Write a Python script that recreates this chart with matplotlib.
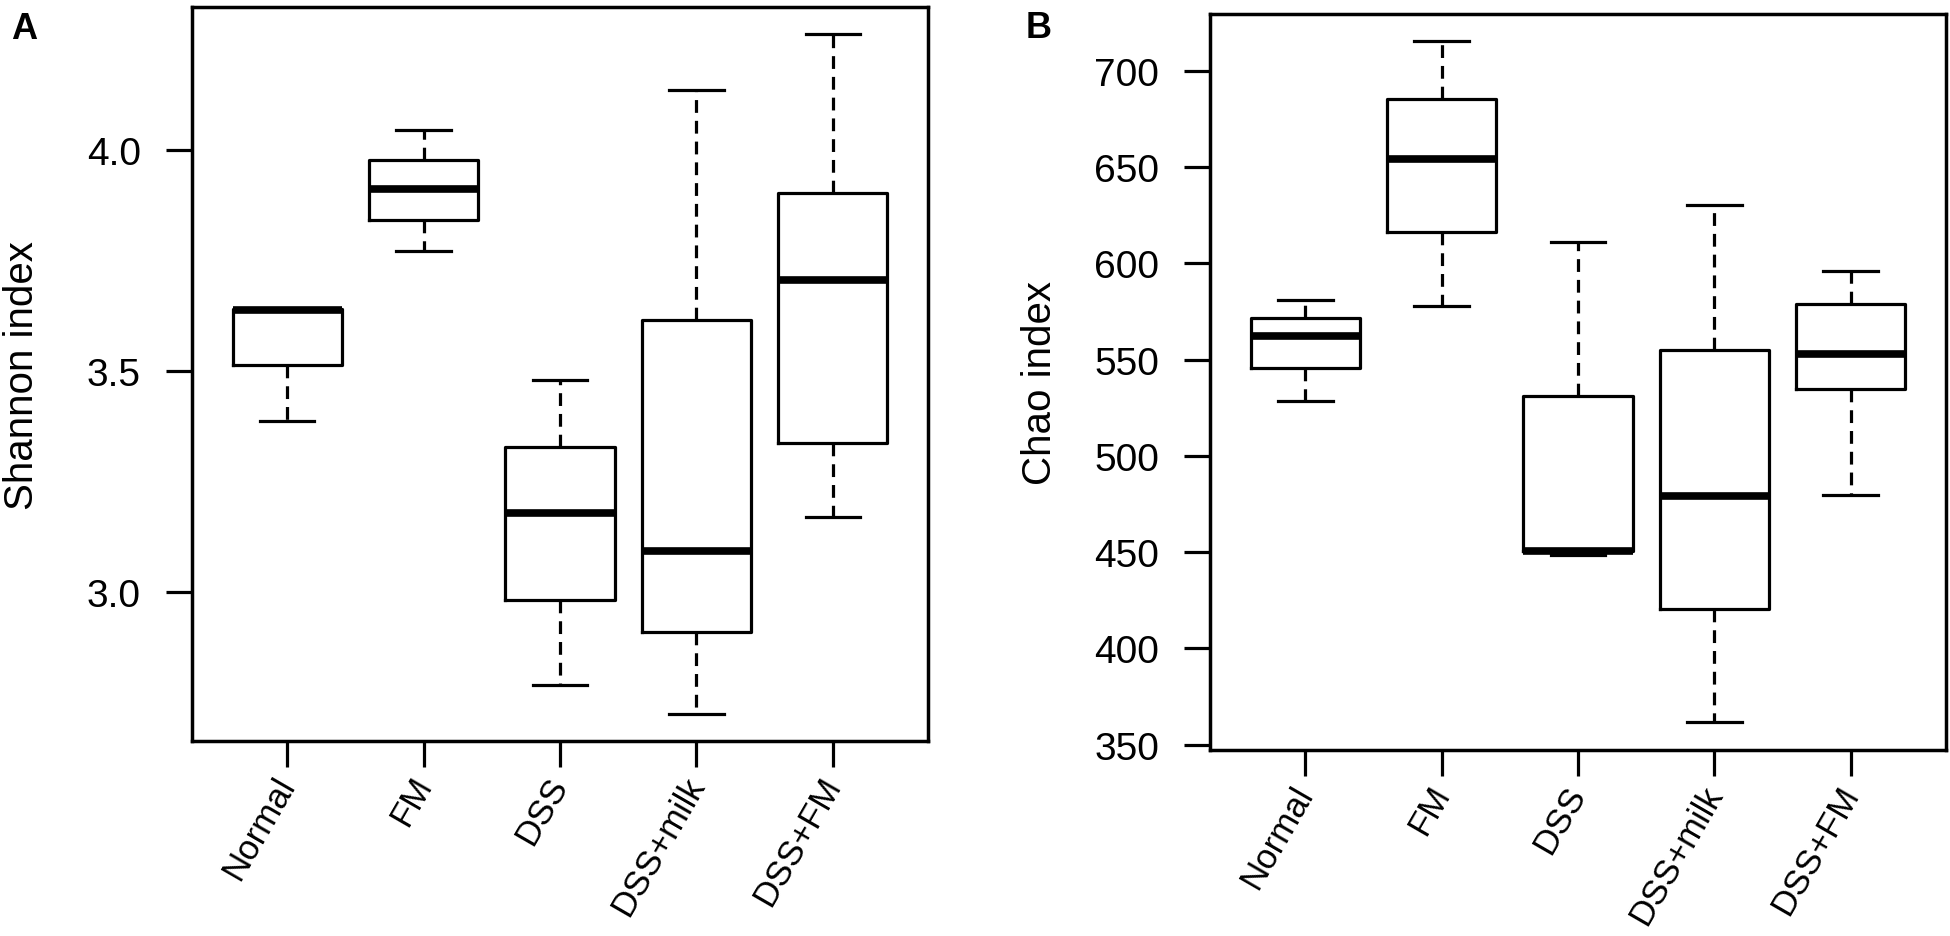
import matplotlib
matplotlib.use("Agg")
import matplotlib.pyplot as plt

plt.rcParams['font.family'] = ['Liberation Sans', 'DejaVu Sans']

groups = ["Normal", "FM", "DSS", "DSS+milk", "DSS+FM"]

# Panel A: Shannon index
shannon_whislo = [3.388, 3.772, 2.790, 2.725, 3.170]
shannon_q1     = [3.513, 3.842, 2.982, 2.910, 3.337]
shannon_med    = [3.637, 3.911, 3.179, 3.094, 3.707]
shannon_q3     = [3.640, 3.978, 3.328, 3.616, 3.902]
shannon_whishi = [3.640, 4.046, 3.479, 4.136, 4.261]
shannon_ticks  = [3.0, 3.5, 4.0]

# Panel B: Chao index
chao_whislo = [528.5, 578.0, 448.5, 361.5, 479.7]
chao_q1     = [545.7, 616.3, 450.5, 420.5, 535.0]
chao_med    = [562.5, 654.4, 450.8, 479.0, 552.8]
chao_q3     = [571.6, 685.6, 531.3, 554.8, 579.1]
chao_whishi = [581.2, 715.7, 610.9, 630.3, 595.9]
chao_ticks  = [350, 400, 450, 500, 550, 600, 650, 700]

W, H = 1950, 937
fig = plt.figure(figsize=(W / 100, H / 100), dpi=100)

FS_TICK = 28
FS_XLAB = 25
FS_LABEL = 29
LW = 2.3


def make_stats(lo, q1, med, q3, hi):
    return [dict(whislo=a, q1=b, med=c, q3=d, whishi=e, fliers=[])
            for a, b, c, d, e in zip(lo, q1, med, q3, hi)]


def panel(rect, stats, ticks, fmt, ylabel, letter, letter_xy, ylabel_x):
    ax = fig.add_axes(rect)
    pos = list(range(1, len(groups) + 1))
    ax.bxp(stats, positions=pos, widths=0.8, capwidths=0.4, showfliers=False,
           boxprops=dict(color='black', linewidth=LW),
           medianprops=dict(color='black', linewidth=5.5, solid_capstyle='butt'),
           whiskerprops=dict(color='black', linewidth=LW, linestyle=(0, (4.0, 2.5))),
           capprops=dict(color='black', linewidth=LW))
    lo = min(s['whislo'] for s in stats)
    hi = max(s['whishi'] for s in stats)
    r = hi - lo
    ax.set_ylim(lo - 0.04 * r, hi + 0.04 * r)
    ax.set_xlim(0.3, len(groups) + 0.7)
    ax.set_yticks(ticks)
    ax.set_yticklabels([fmt.format(t) for t in ticks], fontsize=FS_TICK)
    ax.set_xticks(pos)
    ax.set_xticklabels(groups, fontsize=FS_XLAB, rotation=60, ha='right', va='center',
                       rotation_mode='anchor')
    ax.tick_params(axis='both', direction='out', length=18.5, width=2.3, color='black')
    ax.tick_params(axis='y', pad=18)
    ax.tick_params(axis='x', pad=9)
    for s in ax.spines.values():
        s.set_linewidth(2.5)
        s.set_color('black')
    ax.set_ylabel(ylabel, fontsize=FS_LABEL, va='center')
    ax.yaxis.set_label_coords(ylabel_x, 0.5)
    fig.text(letter_xy[0], letter_xy[1], letter, fontsize=26, fontweight='bold',
             ha='left', va='top')
    return ax


statsA = make_stats(shannon_whislo, shannon_q1, shannon_med, shannon_q3, shannon_whishi)
statsB = make_stats(chao_whislo, chao_q1, chao_med, chao_q3, chao_whishi)

panel([191.7 / W, 1 - 742 / H, 736.6 / W, 733.7 / H], statsA, shannon_ticks, "{:.1f}",
      "Shannon index", "A", (11 / W, 1 - 12 / H), -0.230)
panel([1210 / W, 1 - 750.7 / H, 736 / W, 736.2 / H], statsB, chao_ticks, "{:d}",
      "Chao index", "B", (1026 / W, 1 - 11 / H), -0.231)

fig.savefig("out.png", dpi=100)
